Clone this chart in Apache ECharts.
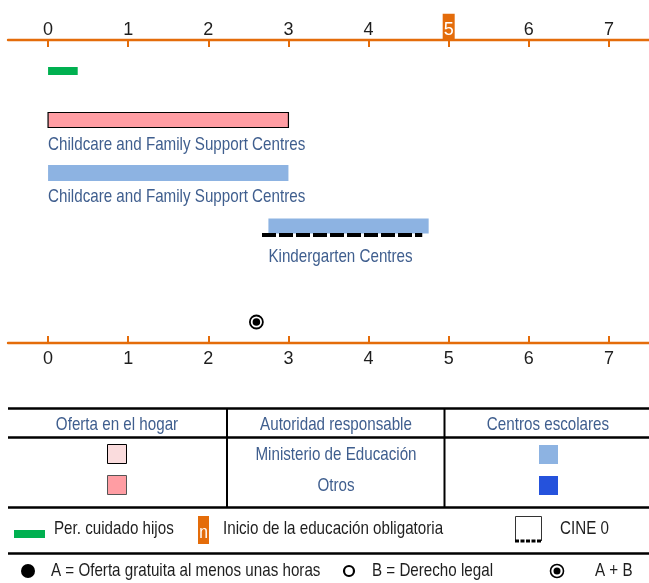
<!DOCTYPE html>
<html>
<head>
<meta charset="utf-8">
<title>Estructura de la educación y atención a la primera infancia</title>
<script src="https://cdn.jsdelivr.net/npm/echarts@6/dist/echarts.min.js"></script>
<style>
  html, body { margin: 0; padding: 0; background: #ffffff; }
  #chart { width: 649px; height: 583px; }
</style>
</head>
<body>
<div id="chart"></div>
<script>
// Ages shown on the two age axes
const ages = [0, 1, 2, 3, 4, 5, 6, 7];
// Age at which compulsory education starts
const compulsoryAge = 5;

// Provision ranges, in years of age [from, to]
const childcareLeave = [0, 0.37];
const homeBased = [0, 3];
const centreBased = [0, 3];
const kindergarten = [2.75, 4.75];
const isced0 = [2.67, 4.67];
// Age of free provision + legal entitlement (A + B)
const freeAndLegal = [2.6];

// Names printed under the bars
const homeBasedName = 'Childcare and Family Support Centres';
const centreBasedName = 'Childcare and Family Support Centres';
const kindergartenName = 'Kindergarten Centres';

// Drawing styles
const FONT = '"Liberation Sans", Arial, sans-serif';
const TEXT_SIZE = 18.5;
const NARROW = 0.82;          // horizontal squeeze giving a narrow face
const ORANGE = '#E46C0A';
const GREEN = '#00B050';
const PINK = '#FF9DA3';
const PINK_LIGHT = '#FADCDD';
const BLUE_LIGHT = '#8DB3E2';
const BLUE_DARK = '#2552DC';
const LABEL_BLUE = '#3F5E8E';
const INK = '#1E1E1E';

// Vertical lanes of the chart area (pixels below the top age axis)
const lanes = { leave: 31, home: 80, centre: 133, kinder: 186, isced: 195, access: 282 };

// Narrow text element anchored at (x, y)
function narrowText(text, x, y, align, color, size) {
  return {
    type: 'text', x: x, y: y, scaleX: NARROW,
    style: {
      text: text, x: 0, y: 0, align: align || 'left', verticalAlign: 'middle',
      font: (size || TEXT_SIZE) + 'px ' + FONT, fill: color || INK
    }
  };
}

function barSeries(range, lane, opts) {
  return {
    type: 'custom',
    clip: false,
    data: [[range[0], range[1], lane]],
    encode: { x: [0, 1], y: 2 },
    renderItem: function (params, api) {
      const a = api.coord([api.value(0), api.value(2)]);
      const b = api.coord([api.value(1), api.value(2)]);
      const h = opts.height;
      const children = [{
        type: 'rect',
        shape: { x: a[0], y: a[1] - h / 2, width: b[0] - a[0], height: h },
        style: { fill: opts.color, stroke: opts.stroke || null, lineWidth: opts.stroke ? 1.2 : 0 }
      }];
      if (opts.label) {
        children.push(narrowText(opts.label, a[0], a[1] + h / 2 + opts.labelGap, 'left', LABEL_BLUE));
      }
      return { type: 'group', children: children };
    }
  };
}

function ageAxis(position) {
  const top = position === 'top';
  return {
    type: 'value',
    position: position,
    min: -0.5,
    max: 7.5,
    axisLine: { show: true, lineStyle: { color: ORANGE, width: 2.4 } },
    axisTick: {
      show: true, inside: true, length: 7, customValues: ages,
      lineStyle: { color: ORANGE, width: 2 }
    },
    splitLine: { show: false },
    axisLabel: {
      show: true,
      customValues: ages,
      margin: top ? 4 : 7,
      formatter: function (v) {
        return (top && v === compulsoryAge) ? '{hl|' + v + '}' : '{n|' + v + '}';
      },
      rich: {
        n: { fontFamily: FONT, fontSize: 18, color: INK, padding: top ? [7, 1, 1.5, 1] : 0, lineHeight: 18 },
        hl: { fontFamily: FONT, fontSize: 18, color: '#ffffff', backgroundColor: ORANGE, padding: [7, 1, 1.5, 1], lineHeight: 18 }
      }
    }
  };
}

const chart = echarts.init(document.getElementById('chart'), null, { renderer: 'canvas' });

// Legend table and key drawn below the chart area
const line = (x1, y1, x2, y2, w) => ({ type: 'line', shape: { x1, y1, x2, y2 }, style: { stroke: '#000', lineWidth: w } });

const graphics = [
  line(8, 408.5, 649, 408.5, 2.6),
  line(8, 437.5, 649, 437.5, 2.6),
  line(227, 408, 227, 507, 2),
  line(444.5, 408, 444.5, 507, 2),
  line(8, 507.5, 649, 507.5, 2.6),
  line(8, 553.5, 649, 553.5, 2.6),
  narrowText('Oferta en el hogar', 117, 424.5, 'center', LABEL_BLUE),
  narrowText('Autoridad responsable', 336, 424.5, 'center', LABEL_BLUE),
  narrowText('Centros escolares', 548, 424.5, 'center', LABEL_BLUE),
  narrowText('Ministerio de Educación', 336, 455, 'center', LABEL_BLUE),
  narrowText('Otros', 336, 486, 'center', LABEL_BLUE),
  { type: 'rect', shape: { x: 107.5, y: 444.5, width: 19, height: 19 }, style: { fill: PINK_LIGHT, stroke: '#000', lineWidth: 1 } },
  { type: 'rect', shape: { x: 107.5, y: 475.5, width: 19, height: 19 }, style: { fill: PINK, stroke: '#555', lineWidth: 1 } },
  { type: 'rect', shape: { x: 539, y: 445, width: 19, height: 19 }, style: { fill: BLUE_LIGHT } },
  { type: 'rect', shape: { x: 539, y: 476, width: 19, height: 19 }, style: { fill: BLUE_DARK } },
  // key row 1
  { type: 'rect', shape: { x: 14, y: 530, width: 31, height: 8 }, style: { fill: GREEN } },
  narrowText('Per. cuidado hijos', 54, 529),
  { type: 'rect', shape: { x: 198, y: 516, width: 11, height: 28 }, style: { fill: ORANGE } },
  narrowText('n', 203.5, 533, 'center', '#ffffff', 19),
  narrowText('Inicio de la educación obligatoria', 223, 529),
  { type: 'polyline', shape: { points: [[515.5, 541], [515.5, 516.5], [541.5, 516.5], [541.5, 541]] }, style: { stroke: '#333', lineWidth: 1, fill: null } },
  { type: 'line', shape: { x1: 515, y1: 541, x2: 542, y2: 541 }, style: { stroke: '#000', lineWidth: 3, lineDash: [4, 1.5] } },
  narrowText('CINE 0', 560, 529),
  // key row 2
  { type: 'circle', shape: { cx: 28, cy: 571, r: 7 }, style: { fill: '#000' } },
  narrowText('A = Oferta gratuita al menos unas horas', 51, 571),
  { type: 'circle', shape: { cx: 349, cy: 571, r: 5 }, style: { fill: '#fff', stroke: '#000', lineWidth: 2.2 } },
  narrowText('B = Derecho legal', 372, 571),
  { type: 'circle', shape: { cx: 557, cy: 571, r: 6.5 }, style: { fill: '#fff', stroke: '#000', lineWidth: 1.6 } },
  { type: 'circle', shape: { cx: 557, cy: 571, r: 3.5 }, style: { fill: '#000' } },
  narrowText('A + B', 595, 571)
];

const option = {
  backgroundColor: '#ffffff',
  animation: false,
  grid: { left: 8, right: -2, top: 40, bottom: 240 },
  xAxis: [ageAxis('top'), ageAxis('bottom')],
  yAxis: { type: 'value', min: 0, max: 303, inverse: true, show: false },
  series: [
    barSeries(childcareLeave, lanes.leave, { color: GREEN, height: 8 }),
    barSeries(homeBased, lanes.home, { color: PINK, stroke: '#000', height: 15, label: homeBasedName, labelGap: 17.5 }),
    barSeries(centreBased, lanes.centre, { color: BLUE_LIGHT, height: 16, label: centreBasedName, labelGap: 16 }),
    barSeries(kindergarten, lanes.kinder, { color: BLUE_LIGHT, height: 15, label: kindergartenName, labelGap: 23.5 }),
    {
      type: 'custom',
      clip: false,
      data: [[isced0[0], isced0[1], lanes.isced]],
      encode: { x: [0, 1], y: 2 },
      renderItem: function (params, api) {
        const a = api.coord([api.value(0), api.value(2)]);
        const b = api.coord([api.value(1), api.value(2)]);
        return {
          type: 'line',
          shape: { x1: a[0], y1: a[1], x2: b[0], y2: b[1] },
          style: { stroke: '#000', lineWidth: 4, lineDash: [14, 3] }
        };
      }
    },
    {
      type: 'custom',
      clip: false,
      data: freeAndLegal.map(v => [v, lanes.access]),
      encode: { x: 0, y: 1 },
      renderItem: function (params, api) {
        const p = api.coord([api.value(0), api.value(1)]);
        return {
          type: 'group',
          children: [
            { type: 'circle', shape: { cx: p[0], cy: p[1], r: 6.5 }, style: { fill: '#fff', stroke: '#000', lineWidth: 1.8 } },
            { type: 'circle', shape: { cx: p[0], cy: p[1], r: 3.8 }, style: { fill: '#000' } }
          ]
        };
      }
    }
  ],
  graphic: graphics
};

chart.setOption(option);
</script>
</body>
</html>
